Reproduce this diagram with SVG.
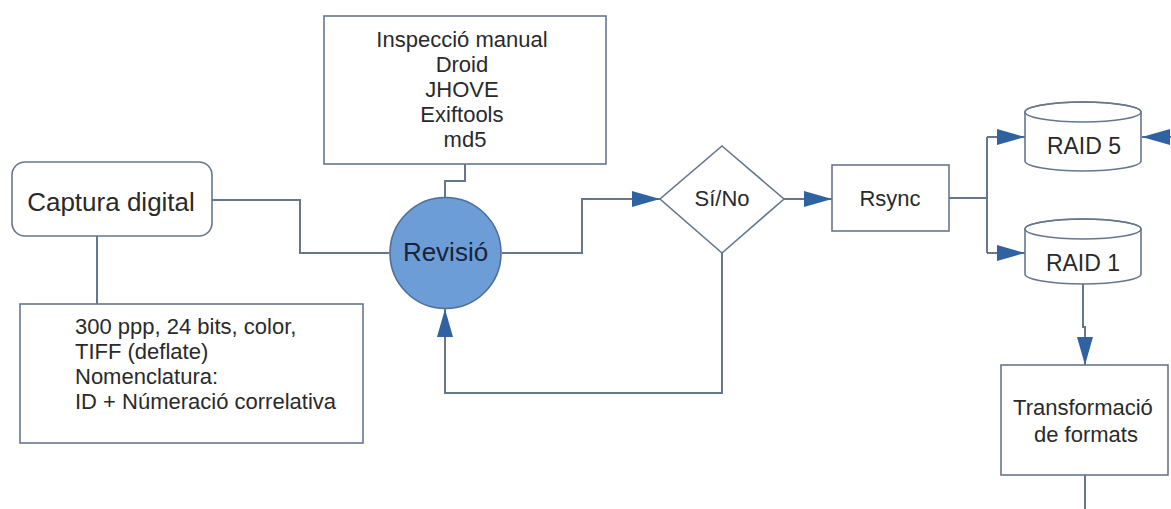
<svg xmlns="http://www.w3.org/2000/svg" width="1171" height="509" viewBox="0 0 1171 509">
  <style>
    .box { fill: #ffffff; stroke: #66778c; stroke-width: 1.6; }
    .link { fill: none; stroke: #66778c; stroke-width: 2; }
    .lbl { font-family: "Liberation Sans", Arial, sans-serif; fill: #2a2a2a; }
    .mid { text-anchor: middle; }
  </style>
  <defs>
    <marker id="arrow" viewBox="0 0 28 16" refX="28" refY="8" markerWidth="28" markerHeight="16" markerUnits="userSpaceOnUse" orient="auto">
      <path d="M0,0 L28,8 L0,16 Z" fill="#2f62a0"/>
    </marker>
  </defs>
  <rect width="1171" height="509" fill="#ffffff"/>

  <!-- connectors -->
  <g id="connectors">
    <polyline class="link" points="212,200 300,200 300,253 389,253"/>
    <line class="link" x1="97" y1="236" x2="97" y2="304"/>
    <polyline class="link" points="465,164 465,181 445,181 445,198"/>
    <polyline class="link" points="502,253 582,253 582,199 660,199" marker-end="url(#arrow)"/>
    <line class="link" x1="784" y1="199" x2="832" y2="199" marker-end="url(#arrow)"/>
    <polyline class="link" points="722,253 722,393 445,393 445,309" marker-end="url(#arrow)"/>
    <line class="link" x1="949" y1="198" x2="987" y2="198"/>
    <line class="link" x1="987" y1="137" x2="987" y2="253"/>
    <line class="link" x1="987" y1="137" x2="1025" y2="137" marker-end="url(#arrow)"/>
    <line class="link" x1="987" y1="253" x2="1025" y2="253" marker-end="url(#arrow)"/>
    <line class="link" x1="1171" y1="137" x2="1142" y2="137" marker-end="url(#arrow)"/>
    <polyline class="link" points="1083,284 1083,327 1085,327 1085,365" marker-end="url(#arrow)"/>
    <line class="link" x1="1085" y1="475" x2="1085" y2="509"/>
  </g>

  <!-- capture step -->
  <g id="captura">
    <rect class="box" x="12" y="162" width="200" height="74" rx="13"/>
    <text class="lbl mid" x="111" y="211" font-size="26">Captura digital</text>
  </g>

  <!-- capture settings note -->
  <g id="parametres">
    <rect class="box" x="20" y="304" width="343" height="139"/>
    <text class="lbl" font-size="22">
      <tspan x="75" y="334">300 ppp, 24 bits, color,</tspan>
      <tspan x="75" y="359">TIFF (deflate)</tspan>
      <tspan x="75" y="384">Nomenclatura:</tspan>
      <tspan x="75" y="409">ID + Númeració correlativa</tspan>
    </text>
  </g>

  <!-- review tools note -->
  <g id="eines">
    <rect class="box" x="324" y="16" width="282" height="148"/>
    <text class="lbl mid" font-size="22">
      <tspan x="465" y="47">Inspecció manual</tspan>
      <tspan x="465" y="72">Droid</tspan>
      <tspan x="465" y="97">JHOVE</tspan>
      <tspan x="465" y="122">Exiftools</tspan>
      <tspan x="465" y="147">md5</tspan>
    </text>
  </g>

  <!-- review step -->
  <g id="revisio">
    <circle cx="445.5" cy="253" r="55.5" fill="#6d9dd6" stroke="#4d6f99" stroke-width="1.6"/>
    <text class="lbl mid" x="445.5" y="261" font-size="26" fill="#16253d" style="fill:#16253d">Revisió</text>
  </g>

  <!-- decision -->
  <g id="decisio">
    <polygon class="box" points="722,146 784,199 722,253 660,199"/>
    <text class="lbl mid" x="722" y="206" font-size="22">Sí/No</text>
  </g>

  <!-- sync step -->
  <g id="rsync">
    <rect class="box" x="832" y="165" width="117" height="66"/>
    <text class="lbl mid" x="890" y="206" font-size="22">Rsync</text>
  </g>

  <!-- storage RAID 5 -->
  <g id="raid5">
    <path class="box" d="M1025,112 L1025,161 A58,10 0 0 0 1141,161 L1141,112 A58,10 0 0 0 1025,112 Z"/>
    <ellipse cx="1083" cy="112" rx="58" ry="10" fill="none" stroke="#66778c" stroke-width="1.6"/>
    <text class="lbl mid" x="1084" y="154" font-size="23">RAID 5</text>
  </g>

  <!-- storage RAID 1 -->
  <g id="raid1">
    <path class="box" d="M1025,229 L1025,274 A58,10 0 0 0 1141,274 L1141,229 A58,10 0 0 0 1025,229 Z"/>
    <ellipse cx="1083" cy="229" rx="58" ry="10" fill="none" stroke="#66778c" stroke-width="1.6"/>
    <text class="lbl mid" x="1083" y="271" font-size="23">RAID 1</text>
  </g>

  <!-- format conversion step -->
  <g id="transformacio">
    <rect class="box" x="1001" y="365" width="167" height="110"/>
    <text class="lbl mid" font-size="22">
      <tspan x="1086" y="415">Transformació</tspan>
      <tspan x="1086" y="442">de formats</tspan>
    </text>
  </g>
</svg>
